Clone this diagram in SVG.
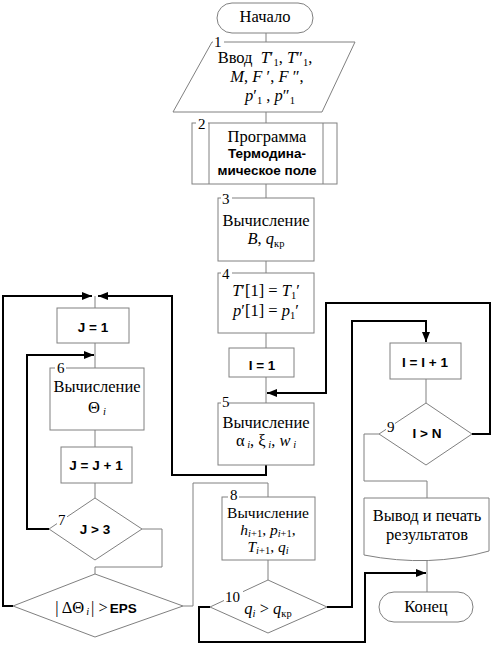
<svg xmlns="http://www.w3.org/2000/svg" width="492" height="657" viewBox="0 0 492 657">
<style>
.n{fill:#fff;stroke:#808080;stroke-width:1}
.c{fill:none;stroke:#808080;stroke-width:1}
.k{fill:none;stroke:#000;stroke-width:2}
.t{font-family:"Liberation Serif","DejaVu Serif",serif;font-size:16.5px;fill:#000}
.b{font-family:"Liberation Sans","DejaVu Sans",sans-serif;font-size:13.5px;font-weight:bold;fill:#000}
.i{font-style:italic}
.s{font-size:10.5px}
.w{fill:#fff;stroke:none}
.sm{font-size:15.5px}
.lb{font-size:15px}
</style>
<defs>
<marker id="ah" markerUnits="userSpaceOnUse" markerWidth="10" markerHeight="8" refX="10" refY="4" orient="auto">
<path d="M0,0 L10,4 L0,8 z" fill="#000"/>
</marker>
</defs>
<rect width="492" height="657" fill="#fff"/>

<g id="connectors">
<path class="c" d="M266,33 V42"/>
<path class="c" d="M266,112 V123"/>
<path class="c" d="M266,184 V198"/>
<path class="c" d="M266,261 V273"/>
<path class="c" d="M266,333 V348"/>
<path class="c" d="M266,377 V403"/>
<path class="c" d="M95,296 V308"/>
<path class="c" d="M95,343 V368"/>
<path class="c" d="M95,430 V447"/>
<path class="c" d="M95,483 V498"/>
<path class="c" d="M142,529 H162 V567 H95 V574"/>
<path class="c" d="M183,606 H193 V483 H268 V497"/>
<path class="c" d="M268,560 V580"/>
<path class="c" d="M426,379 V403"/>
<path class="c" d="M379,434 H364 V481 H427 V498"/>
<path class="c" d="M427,559 V592"/>
<path class="k" d="M266,465 V475 H172 V296 H98" marker-end="url(#ah)"/>
<path class="k" d="M13,606 H3 V296 H92" marker-end="url(#ah)"/>
<path class="k" d="M49,529 H27 V355 H94" marker-end="url(#ah)"/>
<path class="k" d="M472,434 H490 V303 H326 V393 H267" marker-end="url(#ah)"/>
<path class="k" d="M327,607 H352 V321 H426 V342" marker-end="url(#ah)"/>
<path class="k" d="M210,607 H199 V642 H365 V573 H426" marker-end="url(#ah)"/>
</g>

<g id="start">
<rect class="n" x="217" y="3" width="96" height="30" rx="15"/>
<text class="t" x="265" y="22" text-anchor="middle">Начало</text>
</g>

<g id="n1">
<polygon class="n" points="212,42 355,42 322,112 173,112"/>
<rect class="w" x="213" y="36" width="11" height="12"/>
<text class="t lb" x="214" y="47">1</text>
<text class="t" x="265" y="63" text-anchor="middle">Ввод <tspan dx="4" class="i">T</tspan>′<tspan class="s" dy="3">1</tspan><tspan dy="-3">, </tspan><tspan class="i">T</tspan>″<tspan class="s" dy="3">1</tspan><tspan dy="-3">,</tspan></text>
<text class="t" x="267" y="82" text-anchor="middle"><tspan class="i">M</tspan>, <tspan class="i">F</tspan> ′, <tspan class="i">F</tspan> ″,</text>
<text class="t" x="270" y="101" text-anchor="middle"><tspan class="i">p</tspan>′<tspan class="s" dy="3">1</tspan><tspan dy="-3"> , </tspan><tspan class="i">p</tspan>″<tspan class="s" dy="3">1</tspan></text>
</g>

<g id="n2">
<rect class="n" x="192" y="123" width="145" height="61"/>
<path class="c" d="M209,123 V184 M323,123 V184"/>
<rect class="w" x="196" y="117" width="12" height="12"/>
<text class="t lb" x="198" y="129">2</text>
<text class="t" x="267" y="142" text-anchor="middle">Программа</text>
<text class="b" x="267" y="158" text-anchor="middle">Термодина-</text>
<text class="b" x="267" y="175" text-anchor="middle">мическое поле</text>
</g>

<g id="n3">
<rect class="n" x="218" y="198" width="96" height="63"/>
<rect class="w" x="221" y="192" width="11" height="12"/>
<text class="t lb" x="222" y="204">3</text>
<text class="t" x="266" y="226" text-anchor="middle">Вычисление</text>
<text class="t" x="266" y="244" text-anchor="middle"><tspan class="i">B</tspan>, <tspan class="i">q</tspan><tspan class="s" dy="3">кр</tspan></text>
</g>

<g id="n4">
<rect class="n" x="218" y="273" width="96" height="60"/>
<rect class="w" x="221" y="267" width="11" height="12"/>
<text class="t lb" x="222" y="279">4</text>
<text class="t" x="266" y="296" text-anchor="middle"><tspan class="i">T</tspan>′[1] = <tspan class="i">T</tspan><tspan class="s" dy="3">1</tspan><tspan dy="-3">′</tspan></text>
<text class="t" x="266" y="316" text-anchor="middle"><tspan class="i">p</tspan>′[1] = <tspan class="i">p</tspan><tspan class="s" dy="3">1</tspan><tspan dy="-3">′</tspan></text>
</g>

<g id="i1">
<rect class="n" x="229" y="348" width="65" height="29"/>
<text class="b" x="262" y="370" text-anchor="middle">I = 1</text>
</g>

<g id="n5">
<rect class="n" x="218" y="403" width="96" height="62"/>
<rect class="w" x="221" y="397" width="8" height="12"/>
<text class="t lb" x="222" y="407">5</text>
<text class="t" x="266" y="428" text-anchor="middle">Вычисление</text>
<text class="t" x="266" y="446" text-anchor="middle">α<tspan class="s i" dy="2"> i</tspan><tspan dy="-2">, ξ</tspan><tspan class="s i" dy="2"> i</tspan><tspan dy="-2">, </tspan><tspan class="i">w</tspan><tspan class="s i" dy="2"> i</tspan></text>
</g>

<g id="j1">
<rect class="n" x="57" y="308" width="72" height="35"/>
<text class="b" x="93" y="332" text-anchor="middle">J = 1</text>
</g>

<g id="n6">
<rect class="n" x="50" y="368" width="94" height="62"/>
<rect class="w" x="55" y="362" width="11" height="12"/>
<text class="t lb" x="57" y="373">6</text>
<text class="t" x="97" y="392" text-anchor="middle">Вычисление</text>
<text class="t" x="97" y="413" text-anchor="middle">Θ<tspan class="s i" dx="3" dy="2">i</tspan></text>
</g>

<g id="jj">
<rect class="n" x="61" y="447" width="71" height="36"/>
<text class="b" x="96" y="470" text-anchor="middle">J = J + 1</text>
</g>

<g id="n7">
<polygon class="n" points="95,498 142,529 95,560 49,529"/>
<rect class="w" x="57" y="512" width="10" height="13"/>
<text class="t lb" x="58" y="525">7</text>
<text class="b" x="95" y="534" text-anchor="middle">J &gt; 3</text>
</g>

<g id="eps">
<polygon class="n" points="95,574 183,606 95,637 13,606"/>
<text x="96" y="613" text-anchor="middle"><tspan class="t">| ΔΘ</tspan><tspan class="t s i" dx="2" dy="2">i</tspan><tspan class="t" dx="2" dy="-2">| &gt;</tspan><tspan class="b" dx="2">EPS</tspan></text>
</g>

<g id="n8">
<rect class="n" x="222" y="497" width="93" height="63"/>
<rect class="w" x="228" y="491" width="11" height="11"/>
<text class="t lb" x="230" y="500">8</text>
<text class="t sm" x="268" y="518" text-anchor="middle">Вычисление</text>
<text class="t sm" x="268" y="535" text-anchor="middle"><tspan class="i">h</tspan><tspan class="s i" dy="2">i</tspan><tspan class="s">+1</tspan><tspan dy="-2">, </tspan><tspan class="i">p</tspan><tspan class="s i" dy="2">i</tspan><tspan class="s">+1</tspan><tspan dy="-2">,</tspan></text>
<text class="t sm" x="268" y="552" text-anchor="middle"><tspan class="i">T</tspan><tspan class="s i" dy="2">i</tspan><tspan class="s">+1</tspan><tspan dy="-2">, </tspan><tspan class="i">q</tspan><tspan class="s i" dy="2">i</tspan></text>
</g>

<g id="n10">
<polygon class="n" points="268,580 327,607 268,633 210,607"/>
<rect class="w" x="224" y="590" width="19" height="13"/>
<text class="t lb" x="225" y="602">10</text>
<text class="t" x="268" y="614" text-anchor="middle"><tspan class="i">q</tspan><tspan class="s i" dy="3">i</tspan><tspan dy="-3"> &gt; </tspan><tspan class="i">q</tspan><tspan class="s" dy="3">кр</tspan></text>
</g>

<g id="ii">
<rect class="n" x="390" y="343" width="71" height="36"/>
<text class="b" x="425" y="367" text-anchor="middle">I = I + 1</text>
</g>

<g id="n9">
<polygon class="n" points="426,403 472,434 426,465 379,434"/>
<rect class="w" x="386" y="421" width="9" height="12"/>
<text class="t lb" x="387" y="432">9</text>
<text class="b" x="427" y="438" text-anchor="middle">I &gt; N</text>
</g>

<g id="out">
<path class="n" d="M364,498 H489 V551 Q430,568 364,555 Z"/>
<text class="t" x="427" y="521" text-anchor="middle">Вывод и печать</text>
<text class="t" x="427" y="540" text-anchor="middle">результатов</text>
</g>

<g id="end">
<rect class="n" x="379" y="592" width="94" height="30" rx="15"/>
<text class="t" x="426" y="612" text-anchor="middle">Конец</text>
</g>
</svg>
